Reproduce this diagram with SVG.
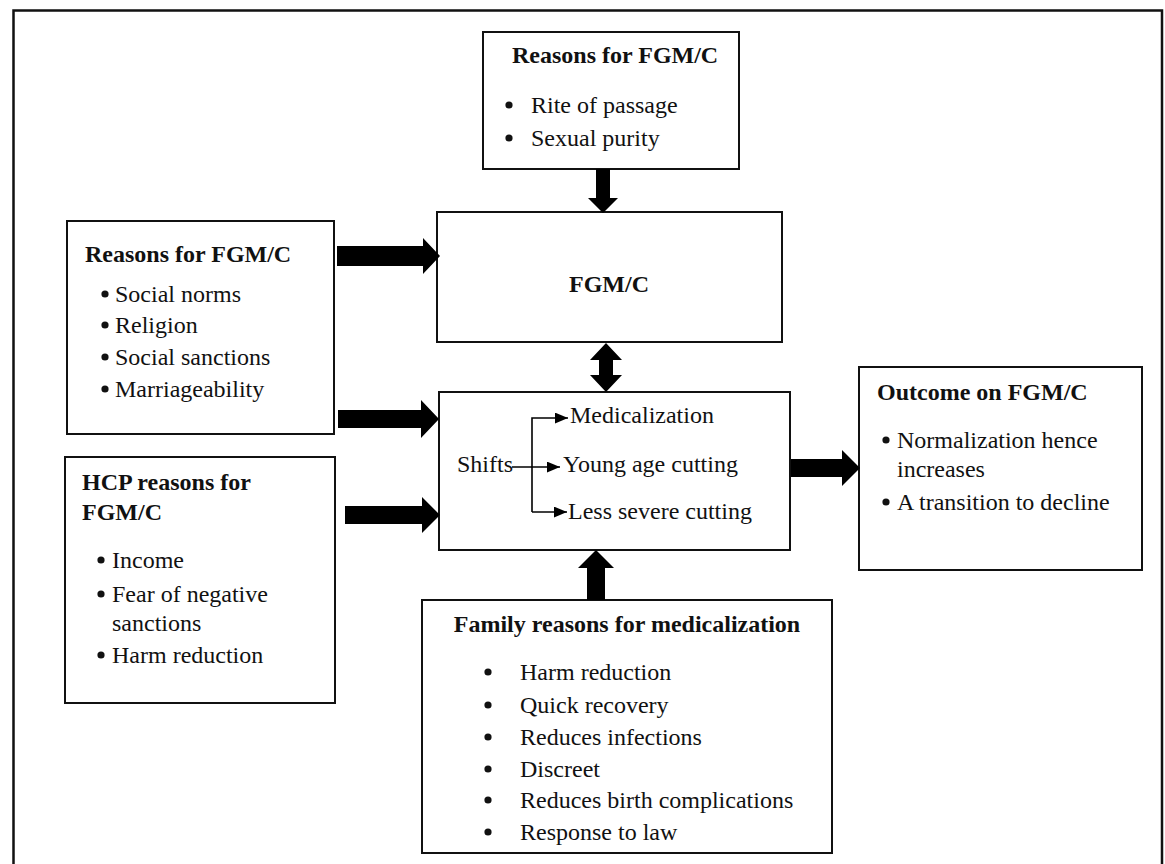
<svg xmlns="http://www.w3.org/2000/svg" width="1165" height="864" viewBox="0 0 1165 864">
<defs>
<style>
.box{fill:#fff;stroke:#111;stroke-width:2}
.t{font-family:"Liberation Serif","Times New Roman",serif;font-size:24px;fill:#111}
.b{font-weight:bold}
.dot{fill:#111}
.arr{fill:#000}
.ln{stroke:#000;stroke-width:1.6;fill:none}
</style>
<marker id="ah" viewBox="0 0 12 10" refX="12" refY="5" markerWidth="13" markerHeight="11" markerUnits="userSpaceOnUse" orient="auto">
<path d="M0,0 L12,5 L0,10 z" fill="#000"/>
</marker>
</defs>
<rect width="1165" height="864" fill="#fff"/>
<path d="M13.5,870 V10.5 H1162 V870" fill="none" stroke="#111" stroke-width="2.5"/>

<g id="top-reasons">
<rect class="box" x="483" y="32" width="256" height="137"/>
<text class="t b" x="512" y="63">Reasons for FGM/C</text>
<circle class="dot" cx="509" cy="105" r="3.6"/><text class="t" x="531" y="113">Rite of passage</text>
<circle class="dot" cx="509" cy="138" r="3.6"/><text class="t" x="531" y="146">Sexual purity</text>
</g>

<g id="fgmc">
<rect class="box" x="437" y="212" width="345" height="130"/>
<text class="t b" x="609" y="292" text-anchor="middle">FGM/C</text>
</g>

<g id="left-reasons">
<rect class="box" x="67" y="221" width="267" height="213"/>
<text class="t b" x="85" y="262">Reasons for FGM/C</text>
<circle class="dot" cx="105" cy="294" r="3.6"/><text class="t" x="115" y="302">Social norms</text>
<circle class="dot" cx="105" cy="325" r="3.6"/><text class="t" x="115" y="333">Religion</text>
<circle class="dot" cx="105" cy="357" r="3.6"/><text class="t" x="115" y="365">Social sanctions</text>
<circle class="dot" cx="105" cy="389" r="3.6"/><text class="t" x="115" y="397">Marriageability</text>
</g>

<g id="hcp-reasons">
<rect class="box" x="65" y="457" width="270" height="246"/>
<text class="t b" x="82" y="490">HCP reasons for</text>
<text class="t b" x="82" y="520">FGM/C</text>
<circle class="dot" cx="101" cy="560" r="3.6"/><text class="t" x="112" y="568">Income</text>
<circle class="dot" cx="101" cy="594" r="3.6"/><text class="t" x="112" y="602">Fear of negative</text>
<text class="t" x="112" y="631">sanctions</text>
<circle class="dot" cx="101" cy="655" r="3.6"/><text class="t" x="112" y="663">Harm reduction</text>
</g>

<g id="shifts">
<rect class="box" x="439" y="392" width="351" height="158"/>
<text class="t" x="457" y="472">Shifts</text>
<text class="t" x="570" y="423">Medicalization</text>
<text class="t" x="563" y="472">Young age cutting</text>
<text class="t" x="568" y="519">Less severe cutting</text>
</g>

<g id="outcome">
<rect class="box" x="859" y="367" width="283" height="203"/>
<text class="t b" x="877" y="400">Outcome on FGM/C</text>
<circle class="dot" cx="886" cy="440" r="3.6"/><text class="t" x="897" y="448">Normalization hence</text>
<text class="t" x="897" y="477">increases</text>
<circle class="dot" cx="886" cy="502" r="3.6"/><text class="t" x="897" y="510">A transition to decline</text>
</g>

<g id="family-reasons">
<rect class="box" x="422" y="600" width="410" height="253"/>
<text class="t b" x="627" y="632" text-anchor="middle">Family reasons for medicalization</text>
<circle class="dot" cx="488" cy="672" r="3.6"/><text class="t" x="520" y="680">Harm reduction</text>
<circle class="dot" cx="488" cy="705" r="3.6"/><text class="t" x="520" y="713">Quick recovery</text>
<circle class="dot" cx="488" cy="737" r="3.6"/><text class="t" x="520" y="745">Reduces infections</text>
<circle class="dot" cx="488" cy="769" r="3.6"/><text class="t" x="520" y="777">Discreet</text>
<circle class="dot" cx="488" cy="800" r="3.6"/><text class="t" x="520" y="808">Reduces birth complications</text>
<circle class="dot" cx="488" cy="832" r="3.6"/><text class="t" x="520" y="840">Response to law</text>
</g>

<g id="connectors">
<polygon class="arr" points="337,246 423,246 423,238 440,256 423,274 423,266 337,266"/>
<polygon class="arr" points="338,410 421,410 421,400 439,419 421,438 421,428 338,428"/>
<polygon class="arr" points="345,506 422,506 422,497 440,515 422,533 422,524 345,524"/>
<polygon class="arr" points="791,459 842,459 842,450 860,468 842,486 842,477 791,477"/>
<polygon class="arr" points="596,169 610,169 610,198 618,198 603,213 588,198 596,198"/>
<polygon class="arr" points="599,360 590,360 606,343 622,360 613,360 613,375 622,375 606,392 590,375 599,375"/>
<polygon class="arr" points="587,600 587,568 578,568 596,550 614,568 605,568 605,600"/>
<path class="ln" d="M512,467 H560" marker-end="url(#ah)"/>
<path class="ln" d="M532,512 V418 H568" marker-end="url(#ah)"/>
<path class="ln" d="M532,512 H567" marker-end="url(#ah)"/>
</g>
</svg>
